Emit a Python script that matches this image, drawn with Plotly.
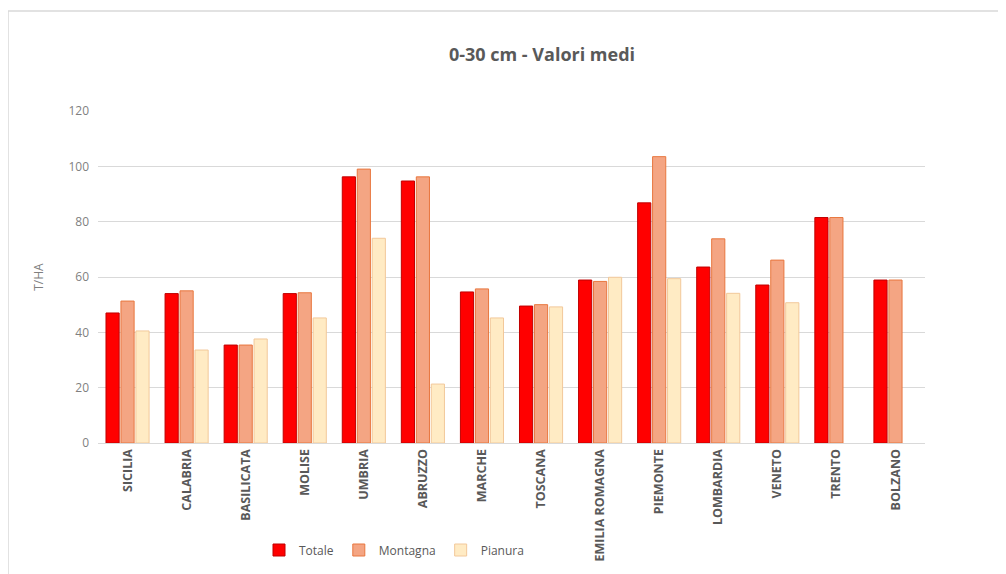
import plotly.graph_objects as go

regioni = ["SICILIA", "CALABRIA", "BASILICATA", "MOLISE", "UMBRIA", "ABRUZZO", "MARCHE",
           "TOSCANA", "EMILIA ROMAGNA", "PIEMONTE", "LOMBARDIA", "VENETO", "TRENTO", "BOLZANO"]
totale = [47.0, 54.0, 35.4, 54.0, 96.2, 94.7, 54.6, 49.5, 58.9, 86.8, 63.6, 57.1, 81.5, 58.9]
montagna = [51.3, 55.0, 35.4, 54.3, 99.0, 96.2, 55.7, 50.0, 58.4, 103.5, 73.8, 66.1, 81.5, 58.9]
pianura = [40.5, 33.6, 37.6, 45.2, 74.0, 21.3, 45.2, 49.2, 59.9, 59.4, 54.1, 50.7, None, None]

font_family = "Open Sans, sans-serif"
grey = "#595959"
light_grey = "#7F7F7F"

# page body has an 8px margin; plot area in page coords: x 98..925, y 111..443
L, T, R, B = 90, 103, 1006 - 917, 574 - 435
PW, PH = 827, 332

fig = go.Figure()
fig.add_trace(go.Bar(name="Totale", x=regioni, y=totale,
                     marker=dict(color="#FF0000", line=dict(color="#C00000", width=1))))
fig.add_trace(go.Bar(name="Montagna", x=regioni, y=montagna,
                     marker=dict(color="#F4A583", line=dict(color="#E8773F", width=1))))
fig.add_trace(go.Bar(name="Pianura", x=regioni, y=pianura,
                     marker=dict(color="#FFEBC4", line=dict(color="#F2C89A", width=1))))

fig.update_layout(
    width=1006, height=574,
    margin=dict(l=L, r=R, t=T, b=B),
    paper_bgcolor="white", plot_bgcolor="white",
    barmode="group", bargap=0.24, bargroupgap=0.12,
    font=dict(family=font_family, color=grey),
    title=dict(text="<b>0-30 cm - Valori medi</b>", x=(534 - L) / PW, xanchor="center",
               xref="paper", y=1 - 47 / 574, yanchor="middle",
               font=dict(size=18, color=grey, family=font_family)),
    showlegend=True,
    legend=dict(orientation="h", x=(386 - L) / PW, xanchor="center",
                y=-(542 - 435) / PH, yanchor="middle",
                font=dict(size=12, color=grey), itemwidth=30, traceorder="normal",
                tracegroupgap=0),
    xaxis=dict(tickangle=-90, tickfont=dict(size=12.5, color=grey, family=font_family),
               showline=True, linecolor="#D9D9D9", linewidth=1, ticks="",
               tickprefix="<b>", ticksuffix="</b>"),
    yaxis=dict(range=[0, 120], dtick=20, gridcolor="#D9D9D9", gridwidth=1,
               zeroline=False, tickfont=dict(size=12, color=light_grey),
               ticklabelstandoff=8,
               title=dict(text="T/HA", font=dict(size=12, color=light_grey), standoff=22)),
    shapes=[
        dict(type="line", xref="paper", yref="paper", x0=-L / PW, x1=1.3,
             y0=(435 - 3) / PH, y1=(435 - 3) / PH, line=dict(color="#D9D9D9", width=1.5)),
        dict(type="line", xref="paper", yref="paper", x0=-L / PW, x1=-L / PW,
             y0=(435 - 3) / PH, y1=-0.6, line=dict(color="#D9D9D9", width=1.5)),
    ],
)

fig.write_html("out.html")
